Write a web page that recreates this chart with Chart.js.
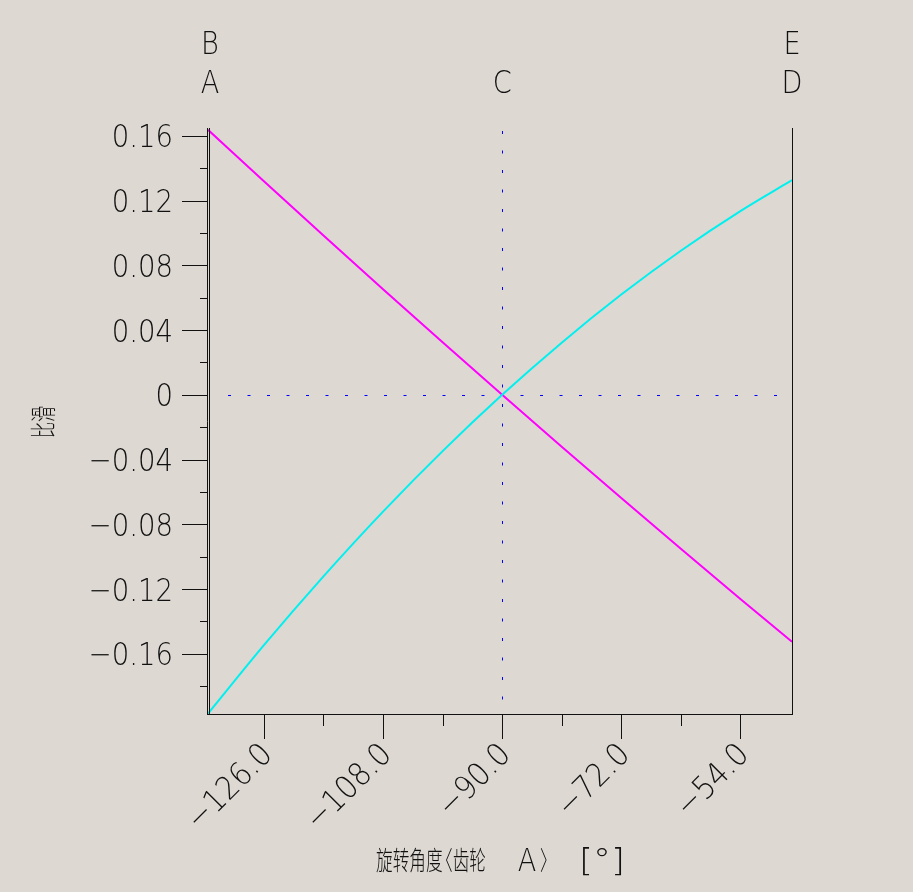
<!DOCTYPE html>
<html>
<head>
<meta charset="utf-8">
<script src="https://cdn.jsdelivr.net/npm/chart.js@4.4.1/dist/chart.umd.min.js"></script>
<style>
  html, body { margin: 0; padding: 0; background: #ddd8d2; }
  #wrap { position: relative; width: 913px; height: 892px; }
</style>
</head>
<body>
<div id="wrap"><canvas id="slipChart"></canvas></div>
<script>
// rotation angle of gear A [deg]
const angles = [-134.45, -126, -117, -108, -99, -90, -81, -72, -63, -54, -46.2];
// specific sliding, two flanks
const slipMagenta = [0.1637, 0.1319, 0.0984, 0.0652, 0.0324, 0, -0.0321, -0.0638, -0.0951, -0.1261, -0.1526];
const slipCyan = [-0.197, -0.1547, -0.1122, -0.0722, -0.0348, 0, 0.0322, 0.0619, 0.0890, 0.1135, 0.1326];

const xMajorTicks = [-126, -108, -90, -72, -54];
const xMinorTicks = [-117, -99, -81, -63];
const xTickLabels = ["\u2212126.0", "\u2212108.0", "\u221290.0", "\u221272.0", "\u221254.0"];
const yMajorTicks = [0.16, 0.12, 0.08, 0.04, 0, -0.04, -0.08, -0.12, -0.16];
const yMinorTicks = [0.14, 0.10, 0.06, 0.02, -0.02, -0.06, -0.10, -0.14, -0.18];
const yTickLabels = ["0.16", "0.12", "0.08", "0.04", "0", "\u22120.04", "\u22120.08", "\u22120.12", "\u22120.16"];

const INK = "#111";
const NUM_FONT = "200 32px 'DejaVu Sans', sans-serif";
const CJK_FONT = "300 26px 'Noto Sans CJK SC', sans-serif";

function toPoints(ys) {
  return angles.map((a, i) => ({ x: a, y: ys[i] }));
}

function txt(ctx, s, x, y, align, font, sx, rot) {
  ctx.save();
  ctx.translate(x, y);
  if (rot) ctx.rotate(rot);
  ctx.scale(sx || 1, 1);
  ctx.font = font;
  ctx.fillStyle = INK;
  ctx.textAlign = align;
  ctx.textBaseline = "alphabetic";
  ctx.fillText(s, 0, 0);
  ctx.restore();
}

const decor = {
  id: "decor",
  beforeDatasetsDraw(chart) {
    const { ctx, chartArea: ca, scales } = chart;
    const x0 = scales.x.getPixelForValue(-90);
    const y0 = scales.y.getPixelForValue(0);
    ctx.save();
    ctx.strokeStyle = "#0000ff";
    ctx.lineWidth = 1;
    ctx.setLineDash([3, 16.5]);
    ctx.beginPath();
    ctx.moveTo(ca.left + 20, Math.round(y0) + 0.5);
    ctx.lineTo(ca.right, Math.round(y0) + 0.5);
    ctx.stroke();
    ctx.beginPath();
    ctx.moveTo(Math.round(x0) + 0.5, ca.top + 3);
    ctx.lineTo(Math.round(x0) + 0.5, ca.bottom);
    ctx.stroke();
    ctx.restore();
  },
  afterDatasetsDraw(chart) {
    const { ctx, chartArea: ca, scales } = chart;
    const L = ca.left, R = ca.right, T = ca.top, B = ca.bottom;
    ctx.save();
    ctx.strokeStyle = INK;
    ctx.lineWidth = 1;
    ctx.beginPath();
    // double left axis
    ctx.moveTo(L - 0.5, T); ctx.lineTo(L - 0.5, B + 0.5);
    ctx.moveTo(L + 1.5, T); ctx.lineTo(L + 1.5, B);
    // right axis
    ctx.moveTo(R + 0.5, T); ctx.lineTo(R + 0.5, B);
    // bottom axis
    ctx.moveTo(L - 1, B + 0.5); ctx.lineTo(R + 1, B + 0.5);
    // y ticks
    yMajorTicks.forEach(v => {
      const y = Math.round(scales.y.getPixelForValue(v)) + 0.5;
      ctx.moveTo(L - 26, y); ctx.lineTo(L - 1, y);
    });
    yMinorTicks.forEach(v => {
      const y = Math.round(scales.y.getPixelForValue(v)) + 0.5;
      ctx.moveTo(L - 8, y); ctx.lineTo(L - 1, y);
    });
    // x ticks
    xMajorTicks.forEach(v => {
      const x = Math.round(scales.x.getPixelForValue(v)) + 0.5;
      ctx.moveTo(x, B); ctx.lineTo(x, B + 25);
    });
    xMinorTicks.forEach(v => {
      const x = Math.round(scales.x.getPixelForValue(v)) + 0.5;
      ctx.moveTo(x, B); ctx.lineTo(x, B + 12);
    });
    ctx.stroke();
    ctx.restore();

    // y tick labels
    yMajorTicks.forEach((v, i) => {
      const y = scales.y.getPixelForValue(v);
      txt(ctx, yTickLabels[i], L - 35, y + 11.5, "right", NUM_FONT, 0.86);
    });
    // x tick labels, rotated
    xMajorTicks.forEach((v, i) => {
      const x = scales.x.getPixelForValue(v);
      ctx.save();
      ctx.translate(x + 2, B + 34);
      ctx.rotate(-Math.PI / 4);
      txt(ctx, xTickLabels[i], 0, 11.5, "right", NUM_FONT, 0.9);
      ctx.restore();
    });

    // point letters above the plot
    const xc = scales.x.getPixelForValue(-90);
    txt(ctx, "B", L + 2, 54, "center", NUM_FONT, 0.85);
    txt(ctx, "A", L + 2, 93, "center", NUM_FONT, 0.85);
    txt(ctx, "C", xc, 93, "center", NUM_FONT, 0.85);
    txt(ctx, "E", R, 54, "center", NUM_FONT, 0.85);
    txt(ctx, "D", R, 93, "center", NUM_FONT, 0.85);

    // axis titles
    txt(ctx, "比滑", 53, 422, "center", CJK_FONT, 0.62, -Math.PI / 2);
    txt(ctx, "旋转角度", 376, 870, "left", CJK_FONT, 0.64);
    txt(ctx, "〈齿轮", 436, 870, "left", CJK_FONT, 0.64);
    txt(ctx, "A", 527, 871, "center", NUM_FONT, 0.85);
    txt(ctx, "〉", 540, 870, "left", CJK_FONT, 0.64);
    txt(ctx, "[°]", 602, 871, "center", NUM_FONT, 1.12);
  }
};

new Chart(document.getElementById("slipChart"), {
  type: "line",
  data: {
    datasets: [
      {
        data: toPoints(slipCyan),
        borderColor: "#00f0f0",
        borderWidth: 2,
        pointRadius: 0,
        cubicInterpolationMode: "monotone",
        fill: false
      },
      {
        data: toPoints(slipMagenta),
        borderColor: "#ff00ff",
        borderWidth: 2,
        pointRadius: 0,
        cubicInterpolationMode: "monotone",
        fill: false
      }
    ]
  },
  options: {
    responsive: true,
    maintainAspectRatio: false,
    animation: false,
    layout: { padding: { left: 208, right: 121, top: 128, bottom: 178 } },
    plugins: { legend: { display: false }, tooltip: { enabled: false } },
    scales: {
      x: { type: "linear", min: -134.45, max: -46.2, display: false },
      y: { type: "linear", min: -0.1972, max: 0.1648, display: false }
    }
  },
  plugins: [decor]
});
</script>
</body>
</html>
